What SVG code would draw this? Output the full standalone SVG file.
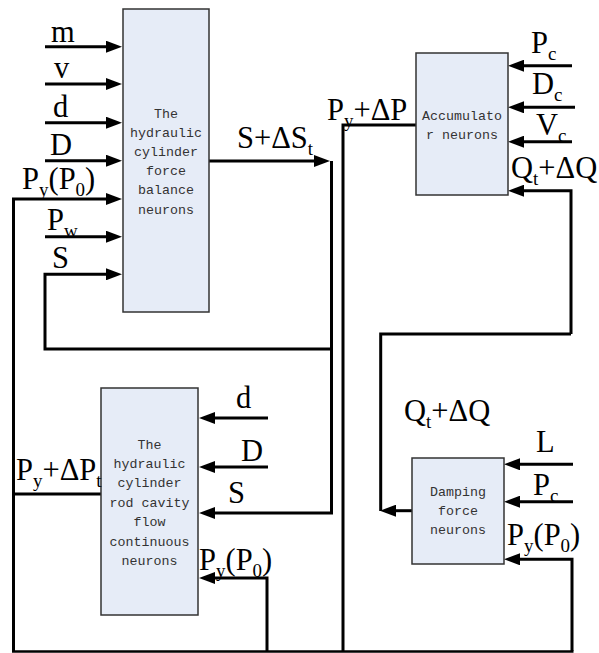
<svg xmlns="http://www.w3.org/2000/svg" width="599" height="653" viewBox="0 0 599 653">
<style>
.box{fill:#e6ecf7;stroke:#333;stroke-width:1.5}
.bt{font-family:"Liberation Mono","DejaVu Sans Mono",monospace;font-size:13.3px;fill:#333;text-anchor:middle}
.ln{fill:none;stroke:#000;stroke-width:3}
.ar{marker-end:url(#ah)}
.lb{font-family:"Liberation Serif","Times New Roman",serif;font-size:30.5px;fill:#000}
.sb{font-size:19px}
</style>
<defs>
<marker id="ah" viewBox="0 0 16 12" refX="8" refY="6" markerWidth="16" markerHeight="12" markerUnits="userSpaceOnUse" orient="auto">
<path d="M0,0 L16,6 L0,12 Z" fill="#000"/>
</marker>
</defs>
<rect width="599" height="653" fill="#fff"/>
<g id="connectors">
<path class="ln ar" d="M45,46.7 H114"/>
<path class="ln ar" d="M45,84 H114"/>
<path class="ln ar" d="M45,122.7 H114"/>
<path class="ln ar" d="M45,160.7 H114"/>
<path class="ln ar" d="M45,236.7 H114"/>
<path class="ln ar" d="M13.5,651 V199 H114"/>
<path class="ln ar" d="M331.5,349 H45 V274.3 H114"/>
<path class="ln ar" d="M209,161 H322"/>
<path class="ln ar" d="M331.5,161 V513 H207"/>
<path class="ln" d="M343,651 V125 H416"/>
<path class="ln ar" d="M572,65.7 H516"/>
<path class="ln ar" d="M575,107.3 H516"/>
<path class="ln ar" d="M572,141.7 H516"/>
<path class="ln ar" d="M571,334 V190.7 H516"/>
<path class="ln" d="M571,334 H380.7 V511"/>
<path class="ln ar" d="M412,510.7 H388"/>
<path class="ln ar" d="M573,464.3 H512"/>
<path class="ln ar" d="M573,501.7 H512"/>
<path class="ln ar" d="M572,651 V559.3 H512"/>
<path class="ln ar" d="M268,418 H207"/>
<path class="ln ar" d="M268,467 H207"/>
<path class="ln ar" d="M267,651 V578 H207"/>
<path class="ln" d="M13.5,494 H101"/>
<path fill="none" stroke="#000" stroke-width="2.5" d="M12,651.5 H573.5"/>
</g>
<g id="force-balance">
<rect class="box" x="123" y="9" width="86" height="303"/>
<text class="bt"><tspan x="166" y="117.5">The</tspan><tspan x="166" dy="19.2">hydraulic</tspan><tspan x="166" dy="19.2">cylinder</tspan><tspan x="166" dy="19.2">force</tspan><tspan x="166" dy="19.2">balance</tspan><tspan x="166" dy="19.2">neurons</tspan></text>
</g>
<g id="rod-cavity">
<rect class="box" x="101" y="388" width="97" height="227"/>
<text class="bt"><tspan x="149.5" y="448.5">The</tspan><tspan x="149.5" dy="19.4">hydraulic</tspan><tspan x="149.5" dy="19.4">cylinder</tspan><tspan x="149.5" dy="19.4">rod cavity</tspan><tspan x="149.5" dy="19.4">flow</tspan><tspan x="149.5" dy="19.4">continuous</tspan><tspan x="149.5" dy="19.4">neurons</tspan></text>
</g>
<g id="accumulator">
<rect class="box" x="416" y="53" width="92" height="142"/>
<text class="bt"><tspan x="462" y="119.5">Accumulato</tspan><tspan x="462" dy="19.2">r neurons</tspan></text>
</g>
<g id="damping">
<rect class="box" x="412" y="458" width="92" height="106"/>
<text class="bt"><tspan x="458" y="496">Damping</tspan><tspan x="458" dy="19">force</tspan><tspan x="458" dy="19">neurons</tspan></text>
</g>
<g id="labels">
<text class="lb" x="51" y="42">m</text>
<text class="lb" x="54" y="78">v</text>
<text class="lb" x="53" y="117">d</text>
<text class="lb" x="50" y="155">D</text>
<text class="lb" x="22" y="189">P<tspan class="sb" dy="7">y</tspan><tspan dy="-7">(P</tspan><tspan class="sb" dy="7">0</tspan><tspan dy="-7">)</tspan></text>
<text class="lb" x="47" y="230">P<tspan class="sb" dy="7">w</tspan></text>
<text class="lb" x="52" y="268">S</text>
<text class="lb" x="237" y="148">S+ΔS<tspan class="sb" dy="7">t</tspan></text>
<text class="lb" x="327" y="120">P<tspan class="sb" dy="7">y</tspan><tspan dy="-7">+ΔP</tspan></text>
<text class="lb" x="531" y="53">P<tspan class="sb" dy="7">c</tspan></text>
<text class="lb" x="532" y="94">D<tspan class="sb" dy="7">c</tspan></text>
<text class="lb" x="536" y="135">V<tspan class="sb" dy="7">c</tspan></text>
<text class="lb" x="511" y="178">Q<tspan class="sb" dy="7">t</tspan><tspan dy="-7">+ΔQ</tspan></text>
<text class="lb" x="404" y="421">Q<tspan class="sb" dy="7">t</tspan><tspan dy="-7">+ΔQ</tspan></text>
<text class="lb" x="236" y="408">d</text>
<text class="lb" x="241" y="461">D</text>
<text class="lb" x="228" y="503">S</text>
<text class="lb" x="199" y="570">P<tspan class="sb" dy="7">y</tspan><tspan dy="-7">(P</tspan><tspan class="sb" dy="7">0</tspan><tspan dy="-7">)</tspan></text>
<text class="lb" x="16" y="480">P<tspan class="sb" dy="7">y</tspan><tspan dy="-7">+ΔP</tspan><tspan class="sb" dy="7">t</tspan></text>
<text class="lb" x="536" y="452">L</text>
<text class="lb" x="533" y="495">P<tspan class="sb" dy="7">c</tspan></text>
<text class="lb" x="507" y="545">P<tspan class="sb" dy="7">y</tspan><tspan dy="-7">(P</tspan><tspan class="sb" dy="7">0</tspan><tspan dy="-7">)</tspan></text>
</g>
</svg>
